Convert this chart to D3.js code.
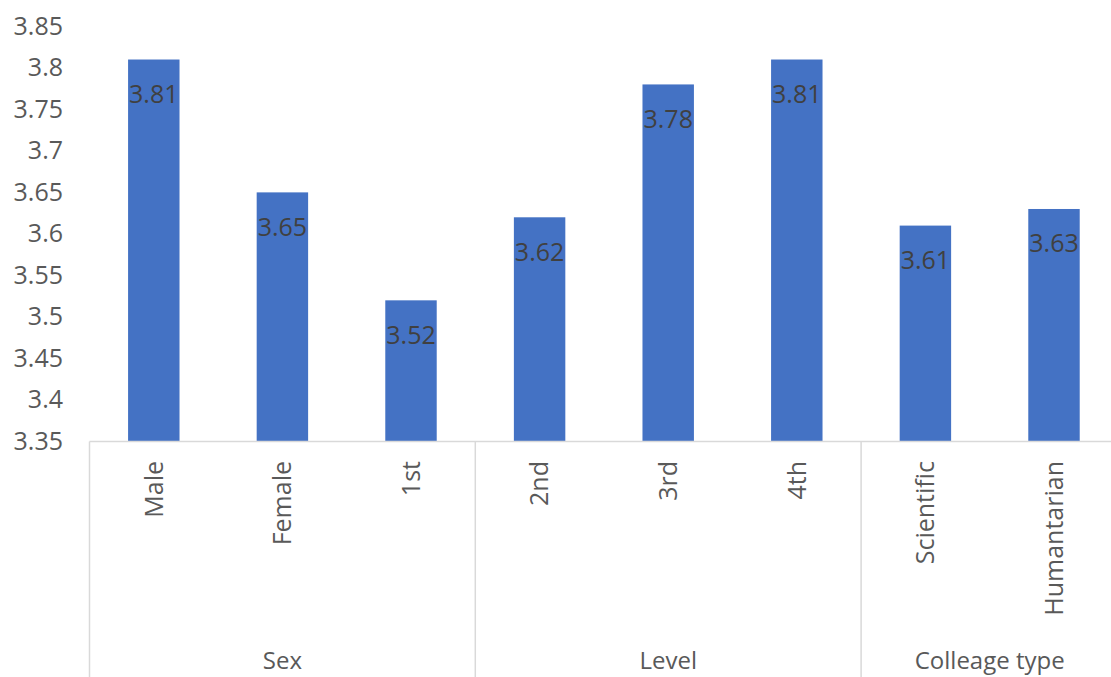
<!DOCTYPE html>
<html><head><meta charset="utf-8">
<script src="https://cdn.jsdelivr.net/npm/d3@7"></script>
<style>body{margin:0;background:#fff}svg{display:block}text{font-family:"Open Sans",sans-serif}</style>
</head><body><svg id="c" width="1111" height="677"></svg>
<script>
const categories = ["Male","Female","1st","2nd","3rd","4th","Scientific","Humantarian"];
const values = [3.81,3.65,3.52,3.62,3.78,3.81,3.61,3.63];
const groupOf = ["Sex","Sex","Sex","Level","Level","Level","Colleage type","Colleage type"];
const groupNames = ["Sex","Level","Colleage type"];
const yTicks = [3.35,3.4,3.45,3.5,3.55,3.6,3.65,3.7,3.75,3.8,3.85];

const svg = d3.select("#c");
const x0 = 89.5, x1 = 1118.3, yBase = 441.5, yTop = 26.3;
const x = d3.scaleBand().domain(categories).range([x0, x1]).paddingInner(0.6).paddingOuter(0.3);
const y = d3.scaleLinear().domain([3.35, 3.85]).range([yBase, yTop]);
const fs = 25;

// y axis
const ya = svg.append("g").attr("transform", `translate(${x0 - 26.5},0)`)
  .call(d3.axisLeft(y).tickValues(yTicks).tickSize(0).tickPadding(0)
    .tickFormat(d => String(+d.toFixed(2))));
ya.select(".domain").remove();
ya.selectAll("text").attr("font-size", fs).attr("fill", "#595959")
  .attr("font-family", '"Open Sans",sans-serif');

// bars
svg.append("g").selectAll("rect").data(values).join("rect")
  .attr("x", (d, i) => x(categories[i]))
  .attr("width", x.bandwidth())
  .attr("y", d => y(d))
  .attr("height", d => y(3.35) - y(d))
  .attr("fill", "#4472C4");

// data labels
svg.append("g").selectAll("text").data(values).join("text")
  .attr("x", (d, i) => x(categories[i]) + x.bandwidth() / 2)
  .attr("y", d => y(d) + 43.5)
  .attr("text-anchor", "middle")
  .attr("font-size", fs).attr("fill", "#404040")
  .text(d => d.toFixed(2));

// baseline
svg.append("line").attr("x1", x0).attr("x2", 1111).attr("y1", yBase).attr("y2", yBase)
  .attr("stroke", "#d9d9d9").attr("stroke-width", 1.5);

// group boundaries
const spans = groupNames.map(g => {
  const idx = groupOf.map((v, i) => v === g ? i : -1).filter(i => i >= 0);
  const start = x0 + x.step() * idx[0];
  const end = x0 + x.step() * (idx[idx.length - 1] + 1);
  return {g, start, end};
});
const bounds = [x0, ...spans.map(s => s.end)];
svg.append("g").selectAll("line").data(bounds).join("line")
  .attr("x1", d => d).attr("x2", d => d).attr("y1", yBase).attr("y2", 677)
  .attr("stroke", "#d9d9d9").attr("stroke-width", 1.5);

// category labels
svg.append("g").selectAll("text").data(categories).join("text")
  .attr("transform", d => `translate(${x(d) + x.bandwidth() / 2},461) rotate(-90)`)
  .attr("text-anchor", "end").attr("dy", "0.35em")
  .attr("font-size", fs).attr("fill", "#595959")
  .text(d => d);

// group labels
svg.append("g").selectAll("text").data(spans).join("text")
  .attr("x", d => (d.start + d.end) / 2).attr("y", 669)
  .attr("text-anchor", "middle")
  .attr("font-size", 24).attr("fill", "#595959")
  .text(d => d.g);
</script></body></html>
